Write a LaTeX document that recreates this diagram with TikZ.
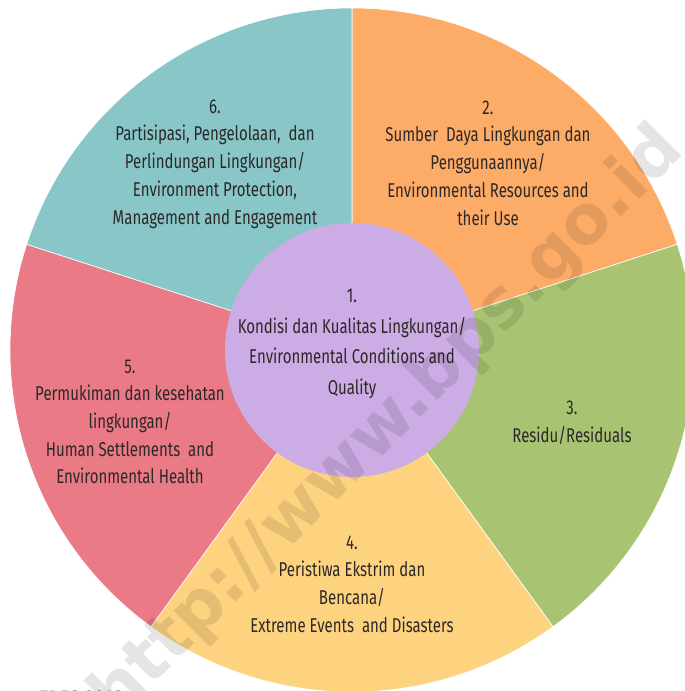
\documentclass[tikz,border=0pt]{standalone}
\usepackage{fontspec}
\setmainfont{Fira Sans}[FakeStretch=0.75]
\newfontfamily\markfont{DejaVu Sans}
\usetikzlibrary{positioning}
\definecolor{tealseg}{RGB}{136,198,200}
\definecolor{orangeseg}{RGB}{253,172,104}
\definecolor{greenseg}{RGB}{168,196,114}
\definecolor{yellowseg}{RGB}{254,211,127}
\definecolor{redseg}{RGB}{234,122,134}
\definecolor{purpleseg}{RGB}{204,172,229}
\definecolor{textgray}{RGB}{45,40,40}

\begin{document}
\begin{tikzpicture}[
    x=1pt, y=1pt,
    slice/.style={draw=white, line width=0.6pt},
    seglabel/.style={align=center, text=textgray, font=\fontsize{20}{27.7}\selectfont},
    corelabel/.style={align=center, text=textgray, font=\fontsize{20}{30.5}\selectfont},
    stamp/.style={rotate=45, text=black, opacity=0.1, font=\markfont\bfseries\fontsize{68}{68}\selectfont}
]
\useasboundingbox (0,0) rectangle (685,691);

% Centre of the wheel
\coordinate (c) at (352,341);

% Outer segments
\filldraw[slice, fill=orangeseg] (c) -- ++(90:342) arc[start angle=90, end angle=18, radius=342] -- cycle;
\filldraw[slice, fill=greenseg] (c) -- ++(18:342) arc[start angle=18, end angle=-54, radius=342] -- cycle;
\filldraw[slice, fill=yellowseg] (c) -- ++(-54:342) arc[start angle=-54, end angle=-126, radius=342] -- cycle;
\filldraw[slice, fill=redseg] (c) -- ++(-126:342) arc[start angle=-126, end angle=-198, radius=342] -- cycle;
\filldraw[slice, fill=tealseg] (c) -- ++(162:342) arc[start angle=162, end angle=90, radius=342] -- cycle;

% Inner circle
\fill[purpleseg] (c) circle[radius=127];

% Labels
\node[corelabel] (core) at (352,347) {1.\\Kondisi dan Kualitas Lingkungan/\\Environmental Conditions and\\Quality};
\node[seglabel] (resources) at (488,528) {2.\\Sumber\ \ Daya Lingkungan dan\\Penggunaannya/\\Environmental Resources and\\their Use};
\node[seglabel] (residuals) at (572,268) {3.\\Residu/Residuals};
\node[seglabel] (extreme) at (352,107) {4.\\Peristiwa Ekstrim dan\\Bencana/\\Extreme Events\ \ and Disasters};
\node[seglabel] (settlements) at (130,269) {5.\\Permukiman dan kesehatan\\lingkungan/\\Human Settlements\ \ and\\Environmental Health};
\node[seglabel] (protection) at (215,527) {6.\\Partisipasi, Pengelolaan,\ \ dan\\Perlindungan Lingkungan/\\Environment Protection,\\Management and Engagement};

% Source line, cut by the page edge
\node[anchor=north west, inner sep=0pt, font=\markfont\bfseries\fontsize{14}{14}\selectfont] (source) at (39,0.5) {FDES 2013};

% Watermark
\node[stamp] (watermark) at (388,267) {http://www.bps.go.id};
\end{tikzpicture}
\end{document}
